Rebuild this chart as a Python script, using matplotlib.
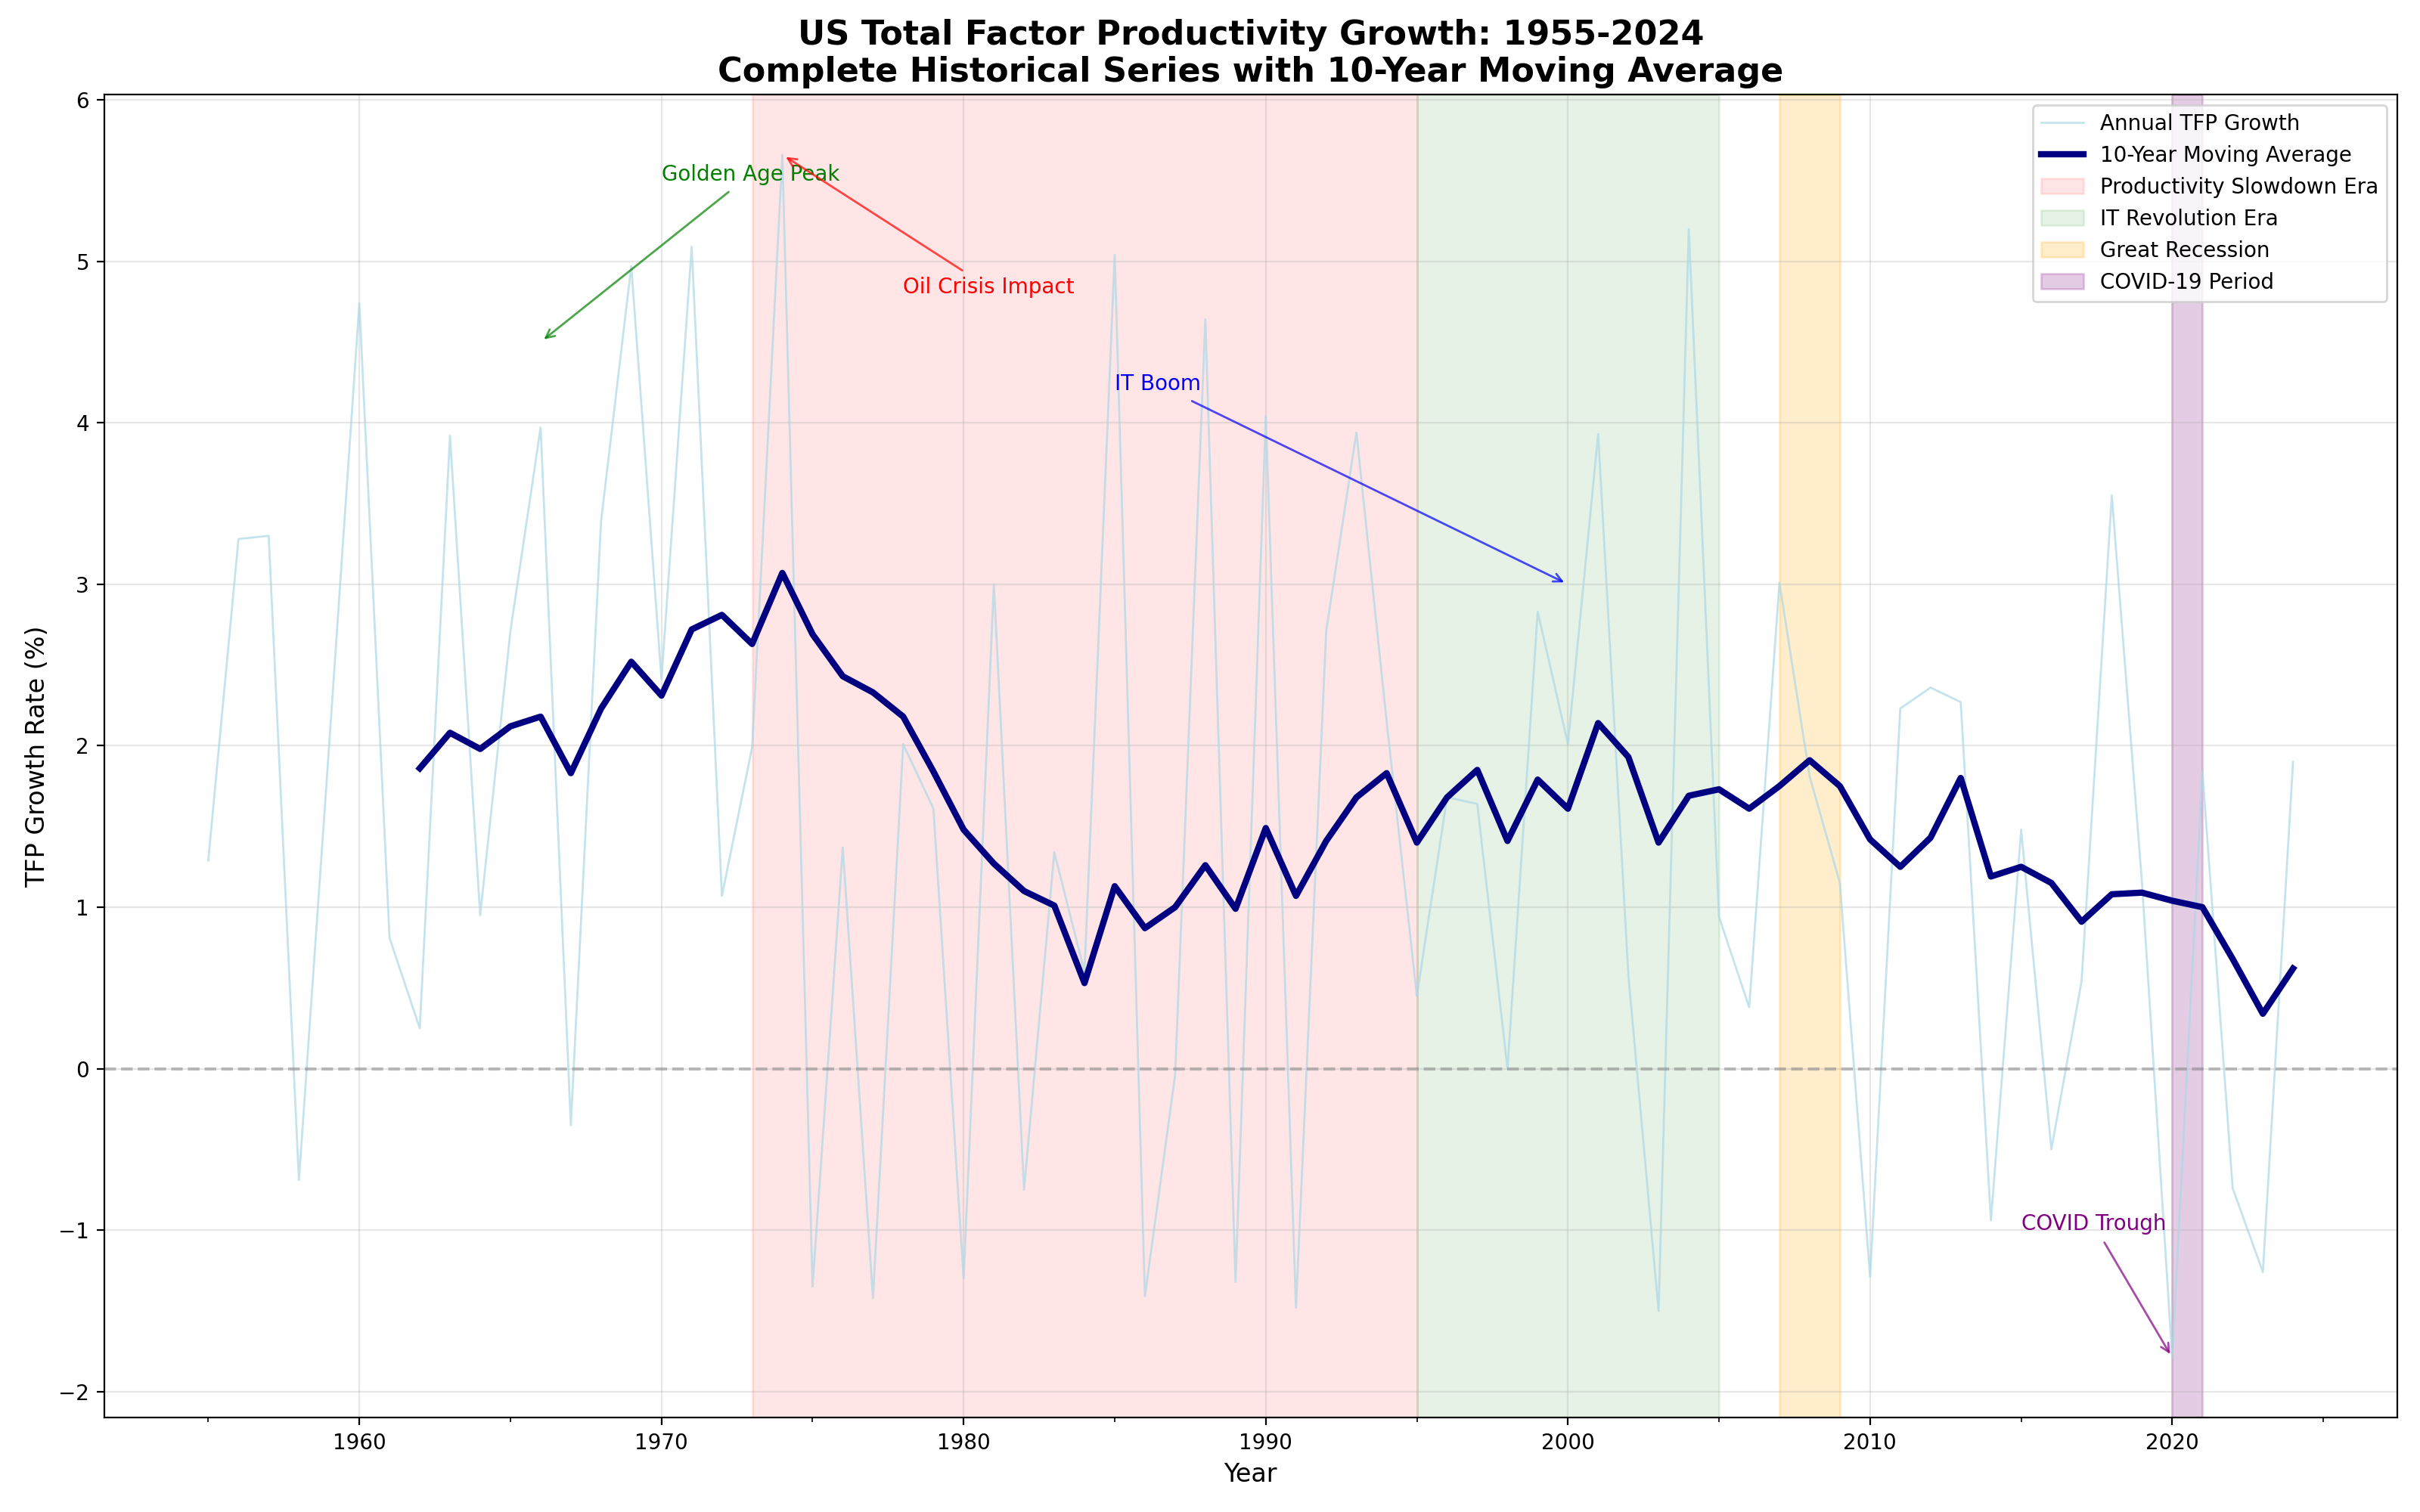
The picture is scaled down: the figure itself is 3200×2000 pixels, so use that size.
import numpy as np
import matplotlib
matplotlib.use("Agg")
import matplotlib.pyplot as plt
from matplotlib.ticker import MultipleLocator

# --- data ---
years = list(range(1955, 2025))
annual_tfp = [
    1.29, 3.28, 3.30, -0.69, 2.00, 4.74, 0.81, 0.25, 3.92, 0.95,   # 1955-1964
    2.71, 3.97, -0.35, 3.39, 4.97, 2.41, 5.09, 1.07, 1.99, 5.66,   # 1965-1974
    -1.35, 1.37, -1.42, 2.01, 1.61, -1.30, 3.00, -0.75, 1.34, 0.60,  # 1975-1984
    5.04, -1.41, -0.04, 4.64, -1.32, 4.04, -1.48, 2.71, 3.94, 2.15,  # 1985-1994
    0.45, 1.68, 1.64, 0.00, 2.83, 2.01, 3.93, 0.58, -1.50, 5.20,   # 1995-2004
    0.94, 0.38, 3.01, 1.81, 1.15, -1.29, 2.23, 2.36, 2.27, -0.94,  # 2005-2014
    1.48, -0.50, 0.54, 3.55, 1.15, -1.79, 1.84, -0.74, -1.26, 1.90,  # 2015-2024
]

ma_years = list(range(1962, 2025))
ma_tfp = [
    1.86, 2.08, 1.98, 2.12, 2.18, 1.83, 2.23, 2.52, 2.31, 2.72,    # 1962-1971
    2.81, 2.63, 3.07, 2.69, 2.43, 2.33, 2.18, 1.84, 1.48, 1.27,    # 1972-1981
    1.10, 1.01, 0.53, 1.13, 0.87, 1.00, 1.26, 0.99, 1.49, 1.07,    # 1982-1991
    1.41, 1.68, 1.83, 1.40, 1.68, 1.85, 1.41, 1.79, 1.61, 2.14,    # 1992-2001
    1.93, 1.40, 1.69, 1.73, 1.61, 1.75, 1.91, 1.75, 1.42, 1.25,    # 2002-2011
    1.43, 1.80, 1.19, 1.25, 1.15, 0.91, 1.08, 1.09, 1.04, 1.00,    # 2012-2021
    0.68, 0.34, 0.62,                                              # 2022-2024
]

eras = [
    ("Productivity Slowdown Era", 1973, 1995, "red", 0.1),
    ("IT Revolution Era", 1995, 2005, "green", 0.1),
    ("Great Recession", 2007, 2009, "orange", 0.2),
    ("COVID-19 Period", 2020, 2021, "purple", 0.2),
]

fig, ax = plt.subplots(figsize=(16, 10))

ax.plot(years, annual_tfp, color="lightblue", linewidth=1, alpha=0.7,
        label="Annual TFP Growth")
ax.plot(ma_years, ma_tfp, color="navy", linewidth=3,
        label="10-Year Moving Average")

for name, start, end, color, alpha in eras:
    ax.axvspan(start, end, color=color, alpha=alpha, label=name)

ax.axhline(0, color="gray", linestyle="--", alpha=0.5)

tfp = dict(zip(years, annual_tfp))

ax.annotate("Golden Age Peak", xy=(1966, 4.5), xytext=(1970, 5.5),
            color="green", fontsize=10,
            arrowprops=dict(arrowstyle="->", color="green", alpha=0.7))
ax.annotate("Oil Crisis Impact", xy=(1974, tfp[1974]), xytext=(1978, 4.8),
            color="red", fontsize=10,
            arrowprops=dict(arrowstyle="->", color="red", alpha=0.7))
ax.annotate("IT Boom", xy=(2000, 3.0), xytext=(1985, 4.2),
            color="blue", fontsize=10,
            arrowprops=dict(arrowstyle="->", color="blue", alpha=0.7))
ax.annotate("COVID Trough", xy=(2020, tfp[2020]), xytext=(2015, -1.0),
            color="purple", fontsize=10,
            arrowprops=dict(arrowstyle="->", color="purple", alpha=0.7))

ax.set_title("US Total Factor Productivity Growth: 1955-2024\n"
             "Complete Historical Series with 10-Year Moving Average",
             fontsize=16, fontweight="bold")
ax.set_xlabel("Year", fontsize=12)
ax.set_ylabel("TFP Growth Rate (%)", fontsize=12)
ax.xaxis.set_minor_locator(MultipleLocator(5))
ax.grid(True, alpha=0.3)
ax.legend(loc="upper right")

plt.tight_layout()
plt.savefig("out.png", dpi=200)
